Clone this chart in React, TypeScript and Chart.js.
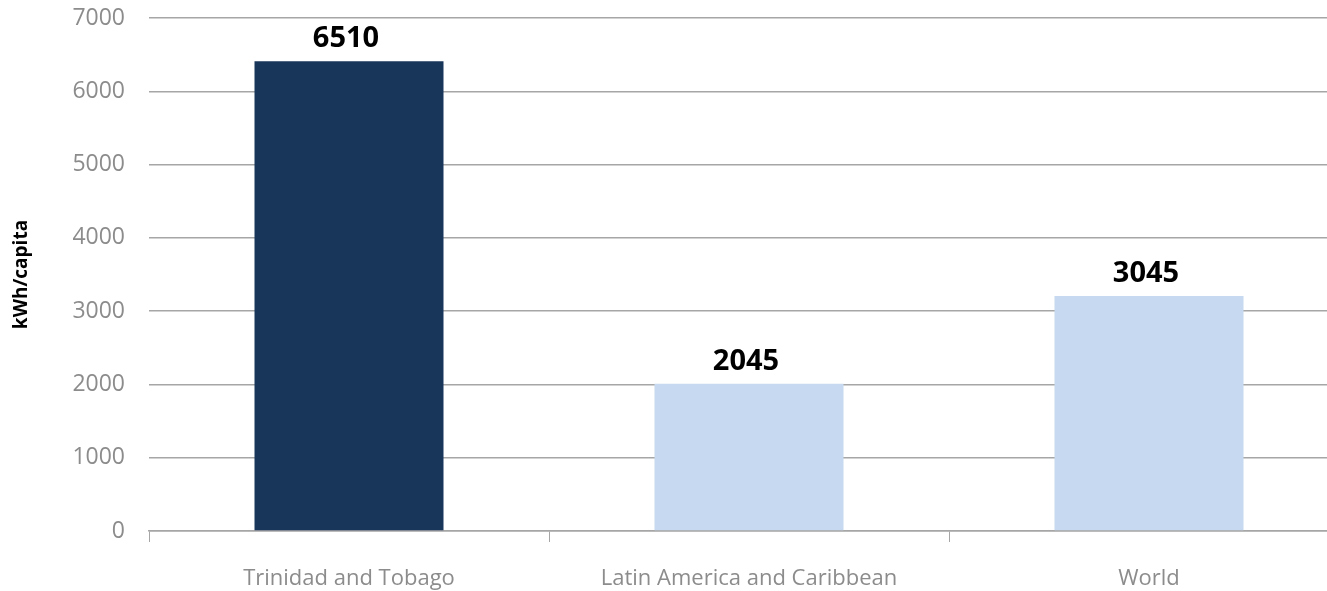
import React, { useEffect, useRef } from "react";
import { Chart, registerables } from "chart.js";

Chart.register(...registerables);

const categories = ["Trinidad and Tobago", "Latin America and Caribbean", "World"];
const barValues = [6410, 2010, 3205];
const valueLabels = ["6510", "2045", "3045"];
const barColors = ["#18365a", "#c6d9f0", "#c6d9f0"];
const yTicks = [0, 1000, 2000, 3000, 4000, 5000, 6000, 7000];

const FONT = "'Open Sans', 'Noto Sans', sans-serif";

const valueLabelPlugin = {
  id: "valueLabels",
  afterDatasetsDraw(chart: any) {
    const ctx = chart.ctx;
    const meta = chart.getDatasetMeta(0);
    ctx.save();
    ctx.font = `bold 29px ${FONT}`;
    ctx.fillStyle = "#000000";
    ctx.textAlign = "center";
    ctx.textBaseline = "alphabetic";
    meta.data.forEach((bar: any, i: number) => {
      ctx.fillText(valueLabels[i], bar.x - 3, bar.y - 14);
    });
    ctx.restore();
  },
};

export default function App() {
  const ref = useRef<HTMLCanvasElement | null>(null);

  useEffect(() => {
    if (!ref.current) return;
    const chart = new Chart(ref.current, {
      type: "bar",
      data: {
        labels: categories,
        datasets: [
          {
            data: barValues,
            backgroundColor: barColors,
            barPercentage: 0.945,
            categoryPercentage: 0.5,
          },
        ],
      },
      options: {
        animation: false,
        responsive: false,
        maintainAspectRatio: false,
        layout: { padding: { top: 18, right: 1, left: 0, bottom: 0 } },
        plugins: {
          legend: { display: false },
          tooltip: { enabled: false },
        },
        scales: {
          x: {
            grid: {
              drawOnChartArea: false,
              drawTicks: true,
              tickLength: 11,
              color: "#a6a6a6",
              lineWidth: 1,
            },
            border: { display: true, color: "#a6a6a6", width: 1.5 },
            ticks: {
              color: "#8c8c8c",
              font: { family: FONT, size: 22 },
              padding: 24,
            },
            afterFit(scale: any) {
              scale.height = 60;
              scale.paddingLeft = 0;
              scale.paddingRight = 0;
            },
          },
          y: {
            min: 0,
            max: 7000,
            afterBuildTicks(scale: any) {
              scale.ticks = yTicks.map((v) => ({ value: v }));
            },
            grid: {
              color: "#a6a6a6",
              lineWidth: 1.5,
              drawTicks: false,
            },
            border: { display: false },
            ticks: {
              color: "#8c8c8c",
              font: { family: FONT, size: 23 },
              padding: 24,
              callback: (v: any) => String(v),
            },
            title: {
              display: true,
              text: "kWh/capita",
              color: "#000000",
              font: { family: FONT, size: 19, weight: "bold" },
              padding: { top: 10, bottom: 0 },
            },
            afterFit(scale: any) {
              scale.width = 149;
              scale.paddingTop = 0;
              scale.paddingBottom = 0;
            },
          },
        },
      },
      plugins: [valueLabelPlugin],
    });
    return () => chart.destroy();
  }, []);

  return (
    <div
      style={{
        position: "fixed",
        left: 0,
        top: 0,
        width: 1327,
        height: 591,
        overflow: "hidden",
        background: "#fff",
      }}
    >
      <canvas ref={ref} width={1350} height={591} style={{ width: 1350, height: 591, display: "block" }} />
    </div>
  );
}
